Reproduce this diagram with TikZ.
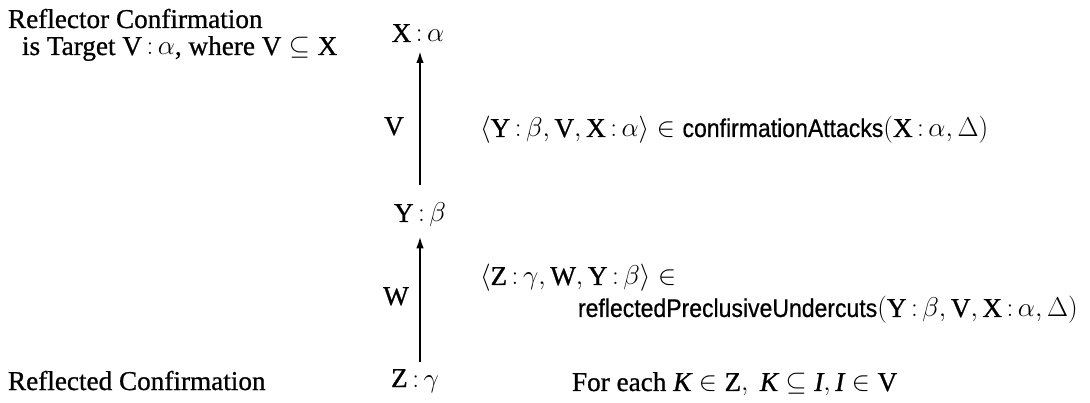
\RequirePackage{fix-cm}
\documentclass[tikz,border=0pt]{standalone}
\usepackage{amssymb}
\usepackage{fontspec}
\setmainfont{Liberation Serif}[RawFeature={embolden=0.8}]
\newfontfamily\helv{Liberation Sans}[Scale=0.94,FakeStretch=0.9,RawFeature={embolden=0.6}]
\usetikzlibrary{arrows.meta}
\begin{document}
\begin{tikzpicture}[x=1pt,y=-1pt,
  every node/.style={inner sep=0pt,outer sep=0pt,font=\fontsize{27.2}{32}\selectfont},
  lab/.style={anchor=base west},
  cen/.style={anchor=base},
  arr/.style={line width=2pt,-{Latex[length=12pt,width=7.5pt]},shorten >=9pt},
]
\useasboundingbox (0,0) rectangle (1090,403);
\node[lab] (r1) at (8,28) {Reflector Confirmation};
\node[lab] (r2) at (22,55) {is Target $\mathrm{V}\,{:}\,\alpha$, where $\mathrm{V}\subseteq\mathrm{X}$};
\node[cen] (X) at (418,42) {$\mathrm{X}\,{:}\,\alpha$};
\node[cen] (Y) at (420,222) {$\mathrm{Y}\,{:}\,\beta$};
\node[cen] (Z) at (415,387) {$\mathrm{Z}\,{:}\,\gamma$};
\coordinate (a1s) at (420,185);
\coordinate (a2s) at (420,362);
\draw[arr] (a1s) -- (X.south -| a1s);
\draw[arr] (a2s) -- (Y.south -| a2s);
\node[cen] (V) at (394,135) {$\mathrm{V}$};
\node[cen] (W) at (396,305) {$\mathrm{W}$};
\node[lab] (c1) at (480,137) {$\langle \mathrm{Y}\,{:}\,\beta, \mathrm{V}, \mathrm{X}\,{:}\,\alpha\rangle \in \mbox{\helv confirmationAttacks}(\mathrm{X}\,{:}\,\alpha, \Delta)$};
\node[lab] (c2) at (480,285) {$\langle \mathrm{Z}\,{:}\,\gamma, \mathrm{W}, \mathrm{Y}\,{:}\,\beta\rangle \in$};
\node[lab] (c3) at (578,317) {$\mbox{\helv reflectedPreclusiveUndercuts}(\mathrm{Y}\,{:}\,\beta, \mathrm{V}, \mathrm{X}\,{:}\,\alpha, \Delta)$};
\node[lab] (rc) at (8,390) {Reflected Confirmation};
\node[lab] (fe) at (572,391) {For each $\mbox{\itshape K} \in \mathrm{Z},\ \mbox{\itshape K} \subseteq \mbox{\itshape I}, \mbox{\itshape I} \in \mathrm{V}$};
\end{tikzpicture}
\end{document}
